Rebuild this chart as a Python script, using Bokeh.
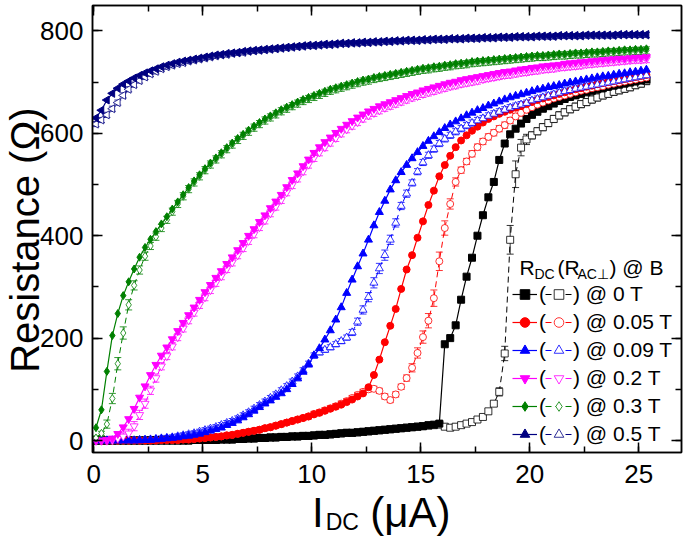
import math
from bokeh.plotting import figure
from bokeh.models import (ColumnDataSource, Whisker, TeeHead, Legend, LegendItem,
                          Label, LinearAxis, Range1d, SingleIntervalTicker, FixedTicker)
from bokeh.embed import file_html
from bokeh.resources import INLINE

# ---------------- data ----------------
I_DC = [0.10, 0.35, 0.60, 0.85, 1.10, 1.35, 1.60, 1.85, 2.10, 2.35,
        2.60, 2.85, 3.10, 3.35, 3.60, 3.85, 4.10, 4.35, 4.60, 4.85,
        5.10, 5.35, 5.60, 5.85, 6.10, 6.35, 6.60, 6.85, 7.10, 7.35,
        7.60, 7.85, 8.10, 8.35, 8.60, 8.85, 9.10, 9.35, 9.60, 9.85,
        10.10, 10.35, 10.60, 10.85, 11.10, 11.35, 11.60, 11.85, 12.10, 12.35,
        12.60, 12.85, 13.10, 13.35, 13.60, 13.85, 14.10, 14.35, 14.60, 14.85,
        15.10, 15.35, 15.60, 15.85, 16.10, 16.35, 16.60, 16.85, 17.10, 17.35,
        17.60, 17.85, 18.10, 18.35, 18.60, 18.85, 19.10, 19.35, 19.60, 19.85,
        20.10, 20.35, 20.60, 20.85, 21.10, 21.35, 21.60, 21.85, 22.10, 22.35,
        22.60, 22.85, 23.10, 23.35, 23.60, 23.85, 24.10, 24.35, 24.60, 24.85,
        25.10, 25.35]

R_DC_0T = [0, 0, 0, 0, 0, 0, 0, 0, 0, 0,
           0, 0, 0, 0, 0, 0, 0, 0, 1, 1,
           1, 1, 1, 2, 2, 2, 3, 3, 4, 4,
           5, 5, 6, 6, 7, 7, 8, 8, 9, 9,
           10, 11, 11, 12, 13, 14, 15, 15, 16, 17,
           18, 19, 20, 21, 22, 23, 24, 25, 26, 27,
           28, 30, 31, 33, 188, 200, 225, 275, 320, 357,
           400, 440, 475, 505, 548, 580, 598, 609, 619, 628,
           636, 642, 648, 653, 658, 663, 667, 671, 674, 677,
           680, 683, 686, 688, 691, 693, 695, 697, 699, 701,
           703, 705]
R_AC_0T = [0, 0, 0, 0, 0, 0, 0, 0, 0, 0,
           0, 0, 0, 0, 0, 0, 0, 0, 1, 1,
           1, 1, 1, 2, 2, 2, 3, 3, 4, 4,
           5, 5, 6, 6, 7, 7, 8, 8, 9, 9,
           10, 11, 11, 12, 13, 14, 15, 15, 16, 17,
           18, 19, 20, 21, 22, 23, 24, 25, 26, 27,
           28, 29, 30, 31, 27, 25, 27, 30, 33, 36,
           41, 46, 57, 72, 95, 170, 392, 520, 572, 588,
           596, 604, 612, 620, 628, 635, 641, 647, 652, 657,
           661, 666, 670, 674, 677, 681, 684, 687, 690, 694,
           697, 702]

R_DC_005T = [0, 0, 0, 0, 0, 0, 0, 0, 0, 0,
             0, 0, 1, 1, 1, 1, 2, 2, 3, 4,
             5, 6, 7, 8, 10, 11, 13, 15, 17, 19,
             21, 24, 26, 29, 32, 35, 38, 41, 44, 47,
             51, 54, 58, 62, 66, 70, 75, 80, 86, 92,
             104, 128, 158, 192, 224, 257, 296, 334, 362, 396,
             428, 460, 488, 516, 538, 556, 573, 586, 596, 605,
             613, 621, 628, 633, 638, 642, 646, 650, 653, 657,
             661, 665, 668, 671, 674, 677, 680, 683, 686, 688,
             691, 693, 696, 698, 700, 702, 704, 706, 708, 710,
             712, 714]
R_AC_005T = [0, 0, 0, 0, 0, 0, 0, 0, 0, 0,
             0, 0, 1, 1, 1, 1, 2, 2, 3, 4,
             5, 6, 7, 8, 10, 11, 13, 15, 17, 19,
             21, 24, 26, 29, 32, 35, 38, 41, 44, 47,
             52, 55, 59, 63, 67, 72, 77, 83, 89, 95,
             100, 101, 97, 86, 79, 90, 105, 122, 142, 171,
             202, 234, 278, 350, 415, 462, 505, 528, 545, 560,
             573, 584, 593, 601, 609, 616, 625, 633, 640, 646,
             651, 656, 660, 664, 668, 671, 674, 677, 680, 683,
             685, 688, 690, 692, 695, 697, 699, 701, 703, 705,
             707, 709]

R_DC_009T = [0, 0, 0, 0, 0, 0, 0, 0, 0, 1,
             1, 2, 3, 4, 5, 6, 8, 9, 11, 13,
             16, 19, 22, 25, 30, 34, 39, 45, 51, 58,
             65, 72, 78, 85, 92, 100, 110, 121, 134, 148,
             166, 180, 197, 215, 236, 260, 288, 314, 340, 365,
             392, 420, 446, 468, 490, 508, 524, 538, 551, 563,
             575, 585, 594, 602, 610, 617, 623, 629, 635, 640,
             645, 649, 654, 658, 662, 666, 670, 673, 676, 679,
             682, 685, 687, 690, 692, 694, 697, 699, 701, 703,
             705, 707, 709, 711, 712, 714, 716, 717, 719, 720,
             722, 724]
R_AC_009T = [0, 0, 0, 0, 0, 0, 0, 0, 1, 1,
             2, 3, 4, 5, 6, 8, 10, 12, 14, 17,
             20, 23, 26, 30, 34, 38, 43, 49, 55, 62,
             69, 76, 83, 90, 98, 106, 115, 125, 137, 150,
             166, 172, 177, 182, 188, 194, 201, 211, 232, 255,
             280, 308, 336, 362, 392, 425, 458, 482, 503, 525,
             543, 557, 569, 580, 589, 596, 603, 609, 615, 620,
             625, 629, 634, 638, 642, 646, 650, 653, 656, 659,
             664, 667, 670, 673, 676, 679, 682, 684, 687, 689,
             691, 693, 695, 697, 699, 701, 703, 705, 707, 709,
             711, 713]

R_DC_02T = [0, 0, 1, 4, 13, 26, 42, 62, 84, 106,
            128, 148, 166, 182, 198, 214, 230, 245, 260, 275,
            290, 304, 318, 331, 345, 358, 372, 386, 400, 413,
            427, 440, 454, 467, 480, 495, 509, 522, 536, 549,
            562, 573, 583, 592, 601, 609, 617, 624, 631, 637,
            643, 648, 653, 657, 661, 665, 669, 673, 677, 680,
            684, 687, 690, 693, 696, 699, 701, 704, 706, 708,
            710, 712, 714, 716, 718, 720, 721, 723, 725, 726,
            728, 729, 731, 732, 733, 734, 736, 737, 738, 739,
            740, 741, 742, 743, 744, 745, 746, 746, 747, 748,
            748, 749]
R_AC_02T = [0, 0, 0, 1, 4, 8, 14, 28, 50, 72,
            98, 122, 145, 165, 184, 202, 219, 235, 250, 265,
            280, 294, 308, 321, 335, 348, 362, 376, 390, 403,
            417, 430, 444, 457, 470, 485, 499, 512, 526, 539,
            552, 563, 573, 582, 591, 600, 608, 615, 622, 629,
            635, 640, 645, 650, 654, 658, 662, 666, 670, 673,
            677, 680, 683, 686, 689, 692, 694, 697, 699, 701,
            703, 706, 708, 710, 712, 714, 715, 717, 719, 720,
            722, 723, 725, 726, 727, 729, 730, 731, 732, 733,
            735, 736, 737, 738, 739, 740, 741, 742, 743, 744,
            744, 745]

R_DC_03T = [25, 60, 135, 205, 248, 283, 310, 335, 358, 377,
            393, 408, 423, 437, 452, 466, 480, 494, 507, 519,
            531, 542, 552, 562, 572, 581, 590, 598, 606, 614,
            621, 628, 634, 640, 646, 651, 656, 661, 666, 670,
            674, 678, 682, 686, 689, 692, 695, 698, 701, 704,
            706, 709, 711, 713, 715, 717, 719, 721, 723, 725,
            727, 728, 730, 731, 733, 734, 736, 737, 738, 740,
            741, 742, 743, 744, 745, 746, 747, 748, 749, 750,
            751, 752, 752, 753, 754, 755, 755, 756, 757, 757,
            758, 759, 759, 760, 761, 761, 762, 763, 763, 764,
            764, 765]
R_AC_03T = [5, 14, 32, 82, 150, 210, 265, 303, 333, 360,
            380, 398, 415, 431, 447, 462, 477, 491, 504, 516,
            528, 539, 549, 559, 569, 578, 587, 595, 603, 611,
            618, 625, 631, 637, 643, 648, 653, 658, 663, 667,
            671, 675, 679, 683, 686, 689, 692, 695, 698, 701,
            703, 706, 708, 710, 712, 714, 716, 718, 720, 722,
            724, 725, 727, 728, 730, 731, 733, 734, 735, 737,
            738, 739, 740, 741, 742, 743, 744, 745, 746, 747,
            748, 749, 749, 750, 751, 752, 752, 753, 754, 754,
            755, 756, 756, 757, 758, 758, 759, 760, 760, 761,
            761, 762]

R_DC_05T = [630, 645, 665, 678, 688, 696, 702, 708, 713, 718,
            722, 726, 730, 733, 736, 739, 741, 743, 745, 747,
            749, 751, 753, 754, 756, 757, 758, 760, 761, 762,
            763, 764, 765, 766, 767, 768, 769, 770, 771, 772,
            772, 773, 774, 774, 775, 776, 776, 777, 777, 778,
            778, 779, 779, 780, 780, 781, 781, 782, 782, 782,
            783, 783, 784, 784, 784, 785, 785, 785, 786, 786,
            786, 787, 787, 787, 788, 788, 788, 789, 789, 789,
            789, 790, 790, 790, 790, 791, 791, 791, 791, 791,
            792, 792, 792, 792, 792, 792, 793, 793, 793, 793,
            793, 793]
R_AC_05T = [618, 626, 636, 648, 660, 674, 686, 695, 703, 710,
            716, 721, 726, 730, 733, 736, 738, 741, 743, 745,
            747, 749, 751, 753, 754, 756, 757, 758, 760, 761,
            762, 763, 764, 765, 766, 767, 768, 769, 770, 771,
            771, 772, 773, 773, 774, 775, 775, 776, 776, 777,
            777, 778, 778, 779, 779, 780, 780, 781, 781, 781,
            782, 782, 783, 783, 783, 784, 784, 784, 785, 785,
            785, 786, 786, 786, 787, 787, 787, 788, 788, 788,
            788, 789, 789, 789, 789, 790, 790, 790, 790, 790,
            791, 791, 791, 791, 791, 791, 792, 792, 792, 792,
            792, 792]

# error bars (Ohm) of the R_AC curves
ERR_0T = [5] * 74 + [8, 14, 28, 26, 16, 10] + [7] * 22
ERR_005T = [5] * 57 + [6, 8, 10, 12, 14, 16, 18, 14, 10, 8] + [6] * 35
ERR_009T = [5] * 47 + [6, 7, 8, 9, 10, 10, 10, 9, 8, 7, 7, 6] + [6] * 43
ERR_02T = [4] * 4 + [6, 7, 8, 9, 9, 9, 8, 8, 7, 7] + [7] * 88
ERR_03T = [4] * 2 + [8, 10, 12, 12, 10, 9, 8, 8] + [7] * 92
ERR_05T = [5] * 102

FIELDS = ["0 T", "0.05 T", "0.09 T", "0.2 T", "0.3 T", "0.5 T"]
DC_SERIES = [R_DC_0T, R_DC_005T, R_DC_009T, R_DC_02T, R_DC_03T, R_DC_05T]
AC_SERIES = [R_AC_0T, R_AC_005T, R_AC_009T, R_AC_02T, R_AC_03T, R_AC_05T]
ERRORS = [ERR_0T, ERR_005T, ERR_009T, ERR_02T, ERR_03T, ERR_05T]

# ---------------- styles ----------------
COLORS = ["#000000", "#ff0000", "#0000ff", "#ff00ff", "#008000", "#000080"]
MARKERS = ["square", "circle", "triangle", "inverted_triangle", "diamond", "triangle"]
ANGLES = [0, 0, 0, 0, 0, math.pi / 2]
SIZES = [7, 7, 8, 8, 8, 8]
FONT = "Liberation Sans"
NBSP = "\u00a0"

p = figure(width=684, height=539, output_backend="svg", toolbar_location=None,
           x_range=Range1d(-0.06, 26.96), y_range=Range1d(-23.4, 849.6),
           min_border_left=92, min_border_right=3, min_border_top=5,
           min_border_bottom=87)
p.xgrid.visible = False
p.ygrid.visible = False
p.outline_line_color = "black"
p.outline_line_width = 1.5
p.background_fill_color = "white"
p.border_fill_color = "white"

xt = SingleIntervalTicker(interval=5, num_minor_ticks=2)
yt = SingleIntervalTicker(interval=200, num_minor_ticks=2)
p.xaxis.ticker = xt
p.yaxis.ticker = yt
p.add_layout(LinearAxis(ticker=xt), "above")
p.add_layout(LinearAxis(ticker=yt), "right")

for ax in p.axis:
    ax.axis_line_width = 1.5
    ax.major_tick_in = 10
    ax.major_tick_out = 0
    ax.minor_tick_in = 6
    ax.minor_tick_out = 0
    ax.major_tick_line_width = 1.5
    ax.minor_tick_line_width = 1.5
    ax.major_label_text_font = FONT
    ax.major_label_text_font_size = "26px"
    ax.major_label_text_color = "black"
for ax in p.above + p.right:
    ax.major_label_text_font_size = "0px"
    ax.major_label_text_color = None
    ax.major_label_standoff = 0
    ax.axis_label_standoff = 0

xax = p.below[0]
xax.major_label_standoff = 12
xax.axis_label = "I" + NBSP * 4 + "(μA)" + NBSP
xax.axis_label_text_font = FONT
xax.axis_label_text_font_size = "42px"
xax.axis_label_text_font_style = "normal"
xax.axis_label_text_color = "black"
xax.axis_label_standoff = 3

# subscript "DC" of the x title, carried by a bare axis under the first one
sub_ax = LinearAxis(ticker=FixedTicker(ticks=[]), axis_line_color=None,
                    major_tick_line_color=None, minor_tick_line_color=None,
                    major_label_text_font_size="0px", major_label_text_color=None,
                    major_label_standoff=0,
                    axis_label="DC" + NBSP * 14, axis_label_text_font=FONT,
                    axis_label_text_font_size="23px",
                    axis_label_text_font_style="normal",
                    axis_label_text_color="black", axis_label_standoff=-30)
p.add_layout(sub_ax, "below")

yax = p.left[0]
yax.major_label_standoff = 9
yax.axis_label = "Resistance (Ω)" + NBSP * 2
yax.axis_label_text_font = FONT
yax.axis_label_text_font_size = "40px"
yax.axis_label_text_font_style = "normal"
yax.axis_label_text_color = "black"
yax.axis_label_standoff = -10

items_dc, items_ac = [], []
for i in range(len(FIELDS)):
    src_dc = ColumnDataSource(dict(x=I_DC, y=DC_SERIES[i]))
    lo = [v - e for v, e in zip(AC_SERIES[i], ERRORS[i])]
    hi = [v + e for v, e in zip(AC_SERIES[i], ERRORS[i])]
    src_ac = ColumnDataSource(dict(x=I_DC, y=AC_SERIES[i], lo=lo, hi=hi))
    c = COLORS[i]
    la = p.line("x", "y", source=src_ac, line_color=c, line_width=1, line_dash="6 4")
    wh = Whisker(base="x", lower="lo", upper="hi", source=src_ac, line_color=c,
                 line_width=0.8, dimension="height",
                 lower_head=TeeHead(size=7, line_color=c, line_width=0.8),
                 upper_head=TeeHead(size=7, line_color=c, line_width=0.8))
    p.add_layout(wh)
    sa = p.scatter("x", "y", source=src_ac, marker=MARKERS[i], size=SIZES[i],
                   angle=ANGLES[i], line_color=c, fill_color="white", line_width=0.8)
    ld = p.line("x", "y", source=src_dc, line_color=c, line_width=1.2)
    sd = p.scatter("x", "y", source=src_dc, marker=MARKERS[i], size=SIZES[i],
                   angle=ANGLES[i], line_color=c, fill_color=c)
    items_dc.append(LegendItem(label="(", renderers=[ld, sd]))
    items_ac.append(LegendItem(label=") @ " + FIELDS[i], renderers=[la, sa]))


def make_legend(items, loc, gw, standoff):
    return Legend(items=items, location=loc, glyph_width=gw, glyph_height=24,
                  label_height=24, spacing=4, padding=0, margin=0,
                  label_standoff=standoff, border_line_alpha=0,
                  background_fill_alpha=0, label_text_font=FONT,
                  label_text_font_size="21px", label_text_color="black")


p.add_layout(make_legend(items_dc, (420, 6), 25, 2))
p.add_layout(make_legend(items_ac, (453, 6), 27, 1))


def lab(text, x, y, size):
    p.add_layout(Label(x=x, y=y, x_units="screen", y_units="screen", text=text,
                       text_align="left", text_baseline="alphabetic",
                       text_font=FONT, text_font_size=size, text_color="black"))


# legend title  R_DC(R_AC⊥) @ B
lab("R", 427, 185, "21px")
lab("DC", 442, 179, "14px")
lab("(R", 465, 185, "21px")
lab("AC⊥", 485, 179, "14px")
lab(") @ B", 517, 185, "21px")

open("out.html", "w").write(file_html(p, INLINE))
